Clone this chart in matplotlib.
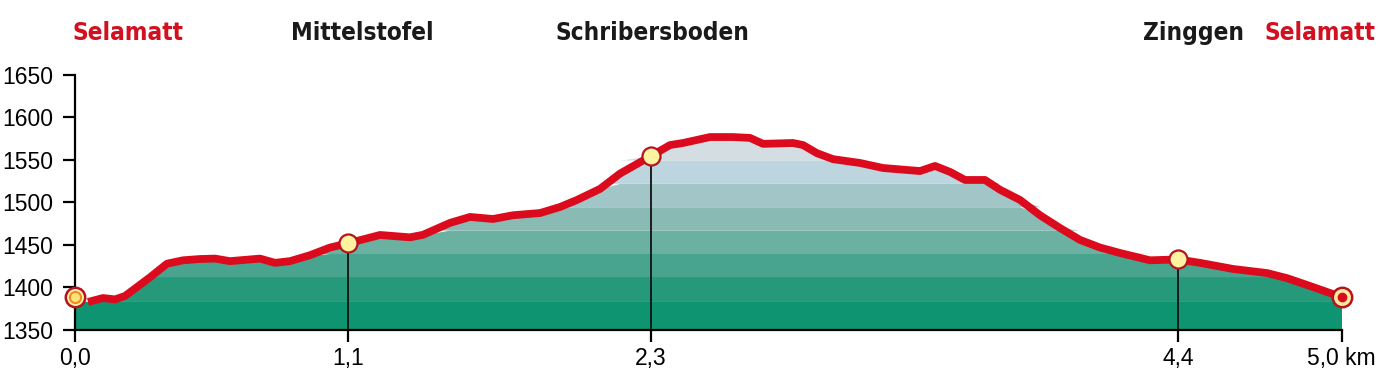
import numpy as np
import matplotlib
matplotlib.use("Agg")
import matplotlib.pyplot as plt
from matplotlib import font_manager
from matplotlib.transforms import ScaledTranslation

# Hoehenprofil Selamatt - Selamatt
dist_km = [0.0, 0.052, 0.112, 0.16, 0.2, 0.232, 0.30, 0.368, 0.432, 0.50, 0.56, 0.62,
           0.74, 0.80, 0.86, 0.94, 1.02, 1.092, 1.22, 1.34, 1.392, 1.50, 1.58, 1.672,
           1.752, 1.86, 1.94, 2.008, 2.10, 2.18, 2.304, 2.38, 2.432, 2.54, 2.632, 2.70,
           2.752, 2.872, 2.912, 2.968, 3.032, 3.14, 3.232, 3.38, 3.44, 3.50, 3.56, 3.64,
           3.70, 3.78, 3.86, 3.94, 4.02, 4.10, 4.18, 4.30, 4.412, 4.50, 4.632, 4.768,
           4.848, 4.928, 5.02, 5.068]
elev_m = [1386, 1383, 1387.6, 1386, 1390, 1397, 1412, 1428, 1432, 1433.5, 1434, 1431,
          1434, 1429, 1431, 1438, 1447, 1452, 1461.8, 1459, 1462, 1476, 1483, 1480.6,
          1485, 1487.6, 1494.7, 1503, 1516, 1534, 1554.7, 1567.6, 1570, 1577, 1577, 1576,
          1569, 1570, 1567.6, 1558, 1551, 1546.5, 1540.6, 1537, 1543, 1536, 1526.5, 1526.5,
          1515, 1503, 1485, 1470, 1456, 1447, 1440.6, 1432, 1433, 1429, 1421.8, 1417,
          1411, 1403, 1393.5, 1388.8]

# Wegpunkte
stop_km = [0.0, 1.092, 2.304, 4.412, 5.068]
stop_elev = [1389, 1452, 1554.7, 1433, 1388.8]
stop_names = ["Selamatt", "Mittelstofel", "Schribersboden", "Zinggen", "Selamatt"]
name_km = [0.212, 1.148, 2.308, 4.472, 5.204]
name_ha = ["center", "center", "center", "center", "right"]
name_colors = ["#d2101f", "#1a1a1a", "#1a1a1a", "#1a1a1a", "#d2101f"]
tick_labels = ["0,0", "1,1", "2,3", "4,4", "5,0 km"]

# Farbbaender (unten dunkelgruen -> oben hellblau)
band_edges = [1350, 1383, 1412.7, 1440, 1467.6, 1495, 1522.6, 1550, 1577, 1650]
band_colors = ["#0e9470", "#26997a", "#48a48e", "#6bb1a1", "#89bbb4",
               "#a2c5c8", "#bcd5de", "#d3dde2", "#d3dde2"]

x = np.array(dist_km)
y = np.array(elev_m)

plt.rcParams['font.family'] = ['Liberation Sans', 'DejaVu Sans']

# schmale Schrift fuer die Ortsnamen, falls vorhanden
narrow = [f for f in font_manager.fontManager.ttflist
          if ("Narrow" in f.name or "Condensed" in f.name or f.stretch == "condensed"
              or f.stretch in (75, 87.5))]
if narrow:
    name_font = dict(family=[narrow[0].name, 'Liberation Sans'], fontstretch=narrow[0].stretch,
                     fontsize=17.5)
else:
    name_font = dict(family=['Liberation Sans'], fontsize=17)

fig = plt.figure(figsize=(13.78, 3.74), dpi=100)
ax = fig.add_axes([75 / 1378, 44 / 374, 1267 / 1378, 255 / 374])

for lo, hi, c in zip(band_edges[:-1], band_edges[1:], band_colors):
    ax.fill_between(x, lo, np.clip(y, lo, hi), where=y > lo, interpolate=True,
                    color=c, lw=0, zorder=1)

# Senkrechte Linien zu den Wegpunkten
for sx, sy in zip(stop_km[1:-1], stop_elev[1:-1]):
    ax.plot([sx, sx], [1350, sy], color="#111111", lw=1.3, zorder=2)

ax.plot(x[1:], y[1:], color="#dc0a1d", lw=5.6, solid_capstyle="butt",
        solid_joinstyle="round", zorder=3)

# Zwischenpunkte
ax.plot(stop_km[1:-1], stop_elev[1:-1], "o", ms=13, mfc="#fff2a0", mec="#b8131c",
        mew=1.6, zorder=5, clip_on=False)
# Start
ax.plot(stop_km[0], stop_elev[0], "o", ms=14, mfc="#fff0b0", mec="#b8131c", mew=1.8,
        zorder=5, clip_on=False)
ax.plot(stop_km[0], stop_elev[0], "o", ms=8, mfc="#ffe47a", mec="#f08a1e", mew=1.5,
        zorder=6, clip_on=False)
# Ziel
ax.plot(stop_km[-1], stop_elev[-1], "o", ms=14, mfc="#ffe9a0", mec="#b8131c", mew=1.8,
        zorder=5, clip_on=False)
ax.plot(stop_km[-1], stop_elev[-1], "o", ms=7, mfc="#dc0a1d", mec="#dc0a1d", mew=0,
        zorder=6, clip_on=False)

for nx, name, c, ha in zip(name_km, stop_names, name_colors, name_ha):
    ax.text(nx, 1699, name, color=c, fontweight="bold", ha=ha, va="center",
            clip_on=False, **name_font)

ax.set_xlim(0, 5.068)
ax.set_ylim(1350, 1650)
ax.set_yticks(np.arange(1350, 1651, 50))
ax.set_xticks(stop_km)
ax.set_xticklabels(tick_labels)

for s in ["top", "right"]:
    ax.spines[s].set_visible(False)
ax.spines["left"].set_linewidth(1.6)
ax.spines["bottom"].set_linewidth(1.6)
ax.spines["left"].set_zorder(4)
ax.spines["bottom"].set_zorder(4)
ax.tick_params(axis="y", length=8.5, width=1.6, pad=7, labelsize=16.5)
ax.tick_params(axis="x", length=8.5, width=1.6, pad=4, labelsize=16.5)
ax.set_facecolor("white")

# "5,0 km": rechtsbuendig an den Bildrand schieben
last = ax.get_xticklabels()[-1]
last.set_horizontalalignment("right")
last.set_transform(last.get_transform() + ScaledTranslation(0.34, 0, fig.dpi_scale_trans))

fig.savefig("out.png", dpi=100)
